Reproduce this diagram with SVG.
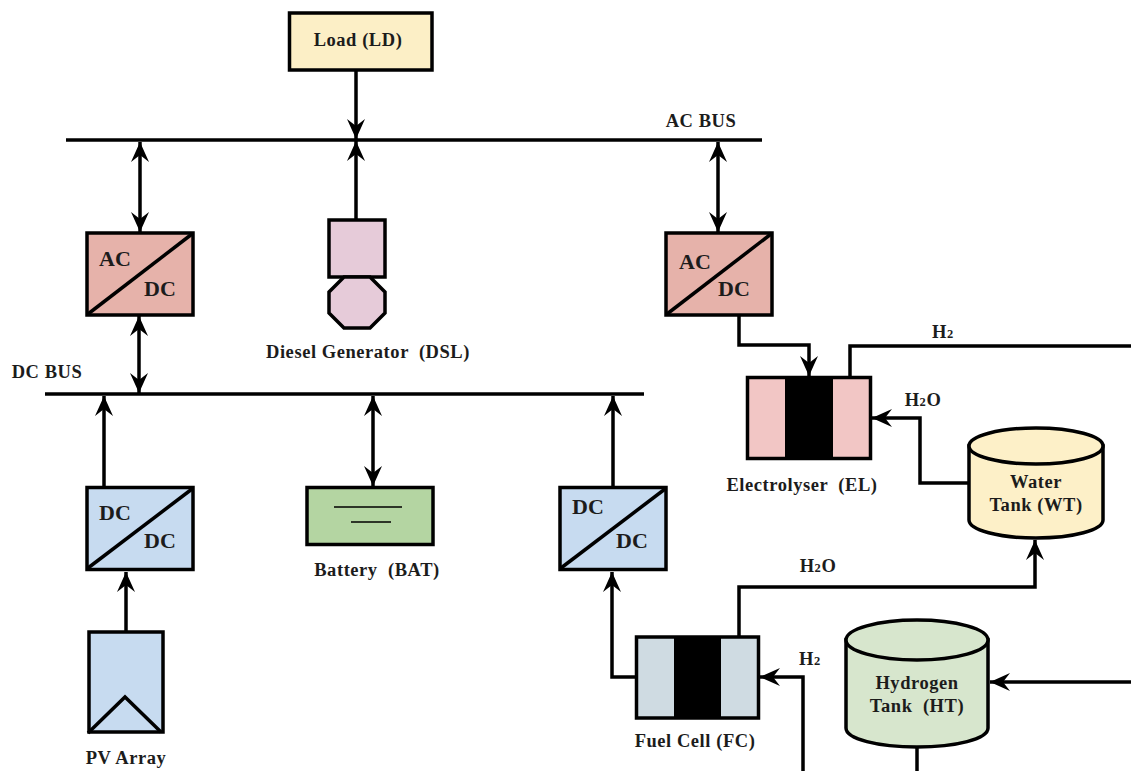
<svg xmlns="http://www.w3.org/2000/svg" width="1131" height="771" viewBox="0 0 1131 771">
<style>
.s{stroke:#000;stroke-width:3.5;stroke-linejoin:miter}
.c{fill:none;stroke:#000;stroke-width:3.5}
.a{marker-end:url(#ah)}
.d{marker-start:url(#ah);marker-end:url(#ah)}
text{font-family:"Liberation Serif","Times New Roman",serif;font-weight:bold;fill:#1c1c1c;font-size:18.5px;letter-spacing:.55px;text-anchor:middle;white-space:pre}
text.b{font-size:22px;letter-spacing:0}
tspan.u{font-size:12.5px}
.ac{fill:#e6b2aa}.dc{fill:#c7dbf0}
</style>
<defs>
<marker id="ah" markerUnits="userSpaceOnUse" markerWidth="22" markerHeight="22" refX="20" refY="10" orient="auto-start-reverse" overflow="visible">
<path d="M20,10 L0,1 L7,10 L0,19 Z" fill="#000"/>
</marker>
</defs>
<rect width="1131" height="771" fill="#fff"/>
<g id="connectors">
<path id="ac-bus" class="c" d="M66,140H762"/>
<path id="dc-bus" class="c" d="M45,394H644"/>
<path class="c a" d="M356,70V139"/>
<path class="c a" d="M356,220V141"/>
<path class="c d" d="M140,142V232"/>
<path class="c d" d="M718,142V232"/>
<path class="c d" d="M139,316V393"/>
<path class="c a" d="M104,487V396"/>
<path class="c d" d="M373,396V486"/>
<path class="c a" d="M613,487V396"/>
<path class="c a" d="M126,632V572"/>
<path class="c a" d="M739,315V345H809V376"/>
<path class="c" d="M850,377V346H1131"/>
<path class="c a" d="M969,483H920V418H872"/>
<path class="c a" d="M636,677H612V572"/>
<path class="c a" d="M739,637V587H1035V540"/>
<path class="c a" d="M803,771V677H760"/>
<path class="c a" d="M1131,682H990"/>
<path class="c" d="M917,747V771"/>
</g>
<g id="load">
<rect class="s" x="289.500" y="13" width="142.500" height="57" fill="#fcefc6"/>
<text x="358" y="46">Load (LD)</text>
</g>
<g id="acdc-left">
<rect class="s ac" x="87" y="233" width="106" height="82"/>
<path class="c" d="M88,314L192,234"/>
<text class="b" x="115" y="266">AC</text><text class="b" x="160" y="296">DC</text>
</g>
<g id="diesel">
<rect class="s" x="329" y="220" width="56" height="57" fill="#e6cbd9"/>
<path class="s" d="M344,277H370L385,292V313L370,328H344L329,313V292Z" fill="#e6cbd9"/>
<text x="368" y="358">Diesel Generator  (DSL)</text>
</g>
<g id="acdc-right">
<rect class="s ac" x="666" y="233" width="106" height="82"/>
<path class="c" d="M667,314L771,234"/>
<text class="b" x="695" y="269">AC</text><text class="b" x="734" y="296">DC</text>
</g>
<g id="electrolyser">
<rect class="s" x="747.500" y="377.500" width="123" height="81" fill="#f2c6c5"/>
<rect x="785" y="377" width="48" height="82" fill="#000"/>
<text x="802" y="491">Electrolyser  (EL)</text>
</g>
<g id="water-tank">
<path class="s" d="M969,446V520C969,530 999,538 1036,538C1073,538 1103,530 1103,520V446Z" fill="#fdf0c8"/>
<ellipse class="s" cx="1036" cy="446" rx="67" ry="18" fill="#fdf0c8"/>
<text x="1036" y="488">Water</text>
<text x="1036" y="511">Tank (WT)</text>
</g>
<g id="dcdc-left">
<rect class="s dc" x="87" y="487.500" width="106" height="82"/>
<path class="c" d="M88,568L192,489"/>
<text class="b" x="115" y="520">DC</text><text class="b" x="160" y="548">DC</text>
</g>
<g id="battery">
<rect class="s" x="307" y="487.500" width="126" height="57" fill="#b4d5a2"/>
<path d="M334,507H402M351,522H391" fill="none" stroke="#000" stroke-width="1.500"/>
<text x="377" y="576">Battery  (BAT)</text>
</g>
<g id="dcdc-right">
<rect class="s dc" x="560" y="487.500" width="106" height="82"/>
<path class="c" d="M561,568L665,489"/>
<text class="b" x="588" y="514">DC</text><text class="b" x="632" y="548">DC</text>
</g>
<g id="pv">
<rect class="s dc" x="89" y="632" width="74" height="100"/>
<path class="c" d="M88,733L125,697L161,732"/>
<text x="126" y="764">PV Array</text>
</g>
<g id="fuel-cell">
<rect class="s" x="636.500" y="637" width="122" height="81" fill="#cfdbe2"/>
<rect x="674" y="636" width="47" height="83" fill="#000"/>
<text x="695" y="747">Fuel Cell (FC)</text>
</g>
<g id="hydrogen-tank">
<path class="s" d="M846,640V728C846,739 878,747 917,747C956,747 988,739 988,728V640Z" fill="#d7e6cd"/>
<ellipse class="s" cx="917" cy="640" rx="71" ry="20" fill="#d7e6cd"/>
<text x="917" y="689">Hydrogen</text>
<text x="917" y="712">Tank  (HT)</text>
</g>
<g id="labels">
<text x="701" y="127">AC BUS</text>
<text x="47" y="378">DC BUS</text>
<text x="943" y="338">H<tspan class="u">2</tspan></text>
<text x="923" y="406">H<tspan class="u">2</tspan>O</text>
<text x="818" y="572">H<tspan class="u">2</tspan>O</text>
<text x="810" y="665">H<tspan class="u">2</tspan></text>
</g>
</svg>
